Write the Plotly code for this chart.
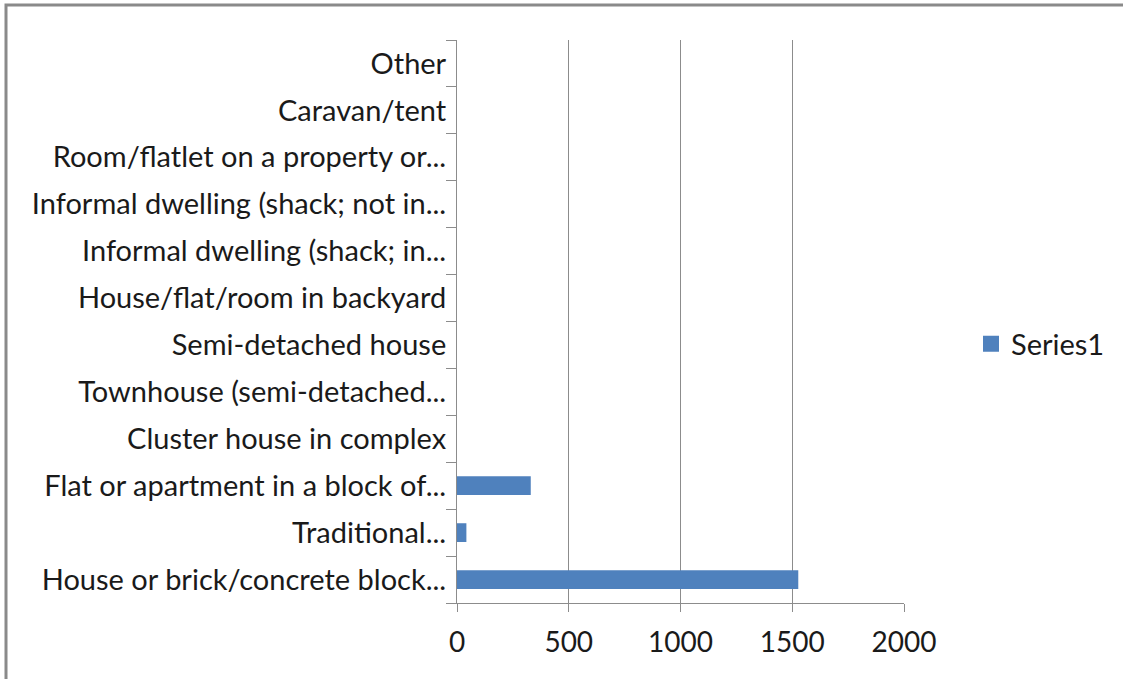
import plotly.graph_objects as go

categories = [
    "House or brick/concrete block...",
    "Traditional...",
    "Flat or apartment in a block of...",
    "Cluster house in complex",
    "Townhouse (semi-detached...",
    "Semi-detached house",
    "House/flat/room in backyard",
    "Informal dwelling (shack; in...",
    "Informal dwelling (shack; not in...",
    "Room/flatlet on a property or...",
    "Caravan/tent",
    "Other",
]
series1 = [1527, 42, 330, 0, 0, 0, 0, 0, 0, 0, 0, 0]
x_ticks = [0, 500, 1000, 1500, 2000]

W, H = 1123, 679
L, R, T, B = 457, 219, 40, 76
pw, ph = W - L - R, H - T - B

def px(x):
    return (x - L) / pw

def py(y):
    return (H - B - y) / ph

FONT = "Lato"
GRID = "#8c8c8c"
TXT = "#1a1a1a"
BAR = "#4F81BD"

fig = go.Figure()
fig.add_trace(go.Bar(
    x=series1, y=categories, orientation="h", name="Series1",
    marker=dict(color=BAR, line=dict(width=0)),
    showlegend=False,
))
# legend entry with a larger square swatch
fig.add_trace(go.Scatter(
    x=[None], y=[None], mode="markers", name="Series1",
    marker=dict(symbol="square", size=16, color=BAR), showlegend=True,
))

fig.update_layout(
    width=W, height=H,
    margin=dict(l=L, r=R, t=T, b=B, autoexpand=False),
    paper_bgcolor="white", plot_bgcolor="white",
    bargap=0.6,
    font=dict(family=FONT, size=29, color=TXT),
    showlegend=True,
    legend=dict(x=px(971), y=py(344), xanchor="left", yanchor="middle",
                font=dict(family=FONT, size=29, color=TXT),
                bgcolor="rgba(0,0,0,0)", itemwidth=30),
    xaxis=dict(range=[0, 2000], tickvals=x_ticks, showgrid=True, gridcolor=GRID,
               gridwidth=1, zeroline=False, showline=True, linecolor=GRID, linewidth=1,
               ticks="outside", ticklen=8, tickcolor=GRID, tickfont=dict(size=28),
               ticklabelstandoff=6),
    yaxis=dict(categoryorder="array", categoryarray=categories, showgrid=False,
               zeroline=False, showline=True, linecolor=GRID, linewidth=1,
               ticks="outside", ticklen=10, tickcolor=GRID, tickson="boundaries",
               ticklabelstandoff=4),
    shapes=[dict(type="rect", xref="paper", yref="paper",
                 x0=px(6), x1=px(1200), y0=py(760), y1=py(5),
                 line=dict(color="#8a8a8a", width=3), fillcolor="rgba(0,0,0,0)",
                 layer="above")],
)

fig.write_html("out.html", config={"displayModeBar": False},
               post_script="document.body.style.margin='0';document.body.style.overflow='hidden';")
